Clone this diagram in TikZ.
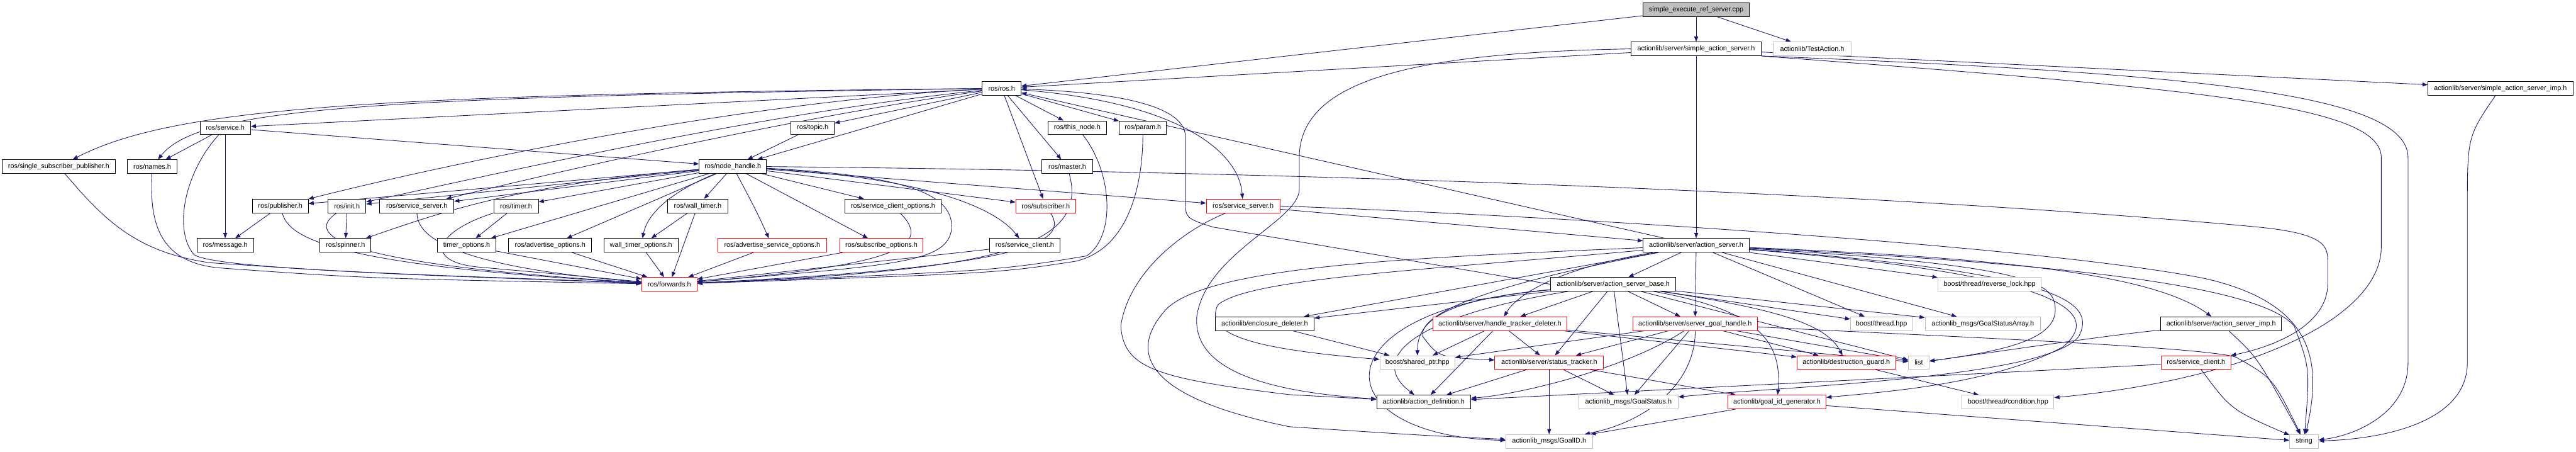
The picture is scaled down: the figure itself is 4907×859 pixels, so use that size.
\documentclass[tikz,border=0pt]{standalone}
\usepackage{fontspec}
\setmainfont{Liberation Sans}
\usetikzlibrary{arrows.meta}
\definecolor{edgec}{HTML}{191970}
\definecolor{redb}{HTML}{FF0000}
\definecolor{grayb}{HTML}{BFBFBF}
\definecolor{rootf}{HTML}{BFBFBF}
\pgfdeclarelayer{bg}
\pgfsetlayers{bg,main}
\begin{document}
\begin{tikzpicture}[x=0.02cm,y=-0.02cm,
  box/.style={draw=black, line width=0.65pt, fill=white, minimum height=0.52cm, inner xsep=0pt, inner ysep=0pt, font=\fontsize{7.4pt}{8pt}\selectfont, text=black},
  rbox/.style={box, draw=redb},
  gbox/.style={box, draw=grayb},
  root/.style={box, fill=rootf},
  e/.style={draw=edgec, line width=0.6pt, -{Triangle[length=0.2cm,width=0.15cm]}}]
\useasboundingbox (0,0) rectangle (4907,859);
% row 0
\node[root, minimum width=4.04cm] (cpp) at (3231,18.5) {simple\_execute\_ref\_server.cpp};
% row 1
\node[box, minimum width=4.96cm] (sas) at (3231,93) {actionlib/server/simple\_action\_server.h};
\node[gbox, minimum width=2.96cm] (test) at (3452,93) {actionlib/TestAction.h};
% row 2
\node[box, minimum width=1.48cm] (ros) at (1908,168) {ros/ros.h};
\node[box, minimum width=5.52cm] (sasimp) at (4763,168) {actionlib/server/simple\_action\_server\_imp.h};
% row 3
\node[box, minimum width=1.92cm] (service) at (429,243) {ros/service.h};
\node[box, minimum width=1.64cm] (topic) at (1548,243) {ros/topic.h};
\node[box, minimum width=2.22cm] (thisnode) at (2052,243) {ros/this\_node.h};
\node[box, minimum width=1.80cm] (param) at (2177,243) {ros/param.h};
% row 4
\node[box, minimum width=4.30cm] (ssp) at (112,317) {ros/single\_subscriber\_publisher.h};
\node[box, minimum width=1.90cm] (names) at (290,317) {ros/names.h};
\node[box, minimum width=2.56cm] (nh) at (1396,317) {ros/node\_handle.h};
\node[box, minimum width=1.92cm] (master) at (2033,317) {ros/master.h};
% row 5
\node[box, minimum width=2.12cm] (pub) at (534,392) {ros/publisher.h};
\node[box, minimum width=1.44cm] (init) at (661,392) {ros/init.h};
\node[box, minimum width=2.82cm] (ssb) at (794,392) {ros/service\_server.h};
\node[box, minimum width=1.70cm] (timer) at (983,392) {ros/timer.h};
\node[box, minimum width=2.30cm] (walltimer) at (1329,392) {ros/wall\_timer.h};
\node[box, minimum width=3.68cm] (sco) at (1701,392) {ros/service\_client\_options.h};
\node[rbox, minimum width=2.28cm] (sub) at (1992,392) {ros/subscriber.h};
\node[rbox, minimum width=2.80cm] (ssr) at (2368,392) {ros/service\_server.h};
% row 6
\node[box, minimum width=2.16cm] (msg) at (429,467) {ros/message.h};
\node[box, minimum width=1.94cm] (spinner) at (658,467) {ros/spinner.h};
\node[box, minimum width=2.22cm] (timeropt) at (889,467) {timer\_options.h};
\node[box, minimum width=3.16cm] (advopt) at (1048,467) {ros/advertise\_options.h};
\node[box, minimum width=2.82cm] (wtopt) at (1221,467) {wall\_timer\_options.h};
\node[rbox, minimum width=4.14cm] (asopt) at (1471,467) {ros/advertise\_service\_options.h};
\node[rbox, minimum width=3.18cm] (subopt) at (1679,467) {ros/subscribe\_options.h};
\node[box, minimum width=2.70cm] (scb) at (1952,467) {ros/service\_client.h};
\node[box, minimum width=4.04cm] (as) at (3231,467) {actionlib/server/action\_server.h};
% row 7
\node[rbox, minimum width=2.10cm] (fwd) at (1275,541) {ros/forwards.h};
\node[box, minimum width=4.76cm] (asb) at (3073,541) {actionlib/server/action\_server\_base.h};
\node[gbox, minimum width=3.94cm] (rlock) at (3790,541) {boost/thread/reverse\_lock.hpp};
% row 8
\node[box, minimum width=3.76cm] (encl) at (2409,616) {actionlib/enclosure\_deleter.h};
\node[rbox, minimum width=5.10cm] (htd) at (2857,616) {actionlib/server/handle\_tracker\_deleter.h};
\node[rbox, minimum width=4.76cm] (sgh) at (3229,616) {actionlib/server/server\_goal\_handle.h};
\node[gbox, minimum width=2.36cm] (thread) at (3584,616) {boost/thread.hpp};
\node[gbox, minimum width=4.40cm] (gsa) at (3777,616) {actionlib\_msgs/GoalStatusArray.h};
\node[box, minimum width=4.60cm] (asimp) at (4231,616) {actionlib/server/action\_server\_imp.h};
% row 9
\node[gbox, minimum width=2.86cm] (sptr) at (2700,690) {boost/shared\_ptr.hpp};
\node[rbox, minimum width=4.14cm] (st) at (2951,690) {actionlib/server/status\_tracker.h};
\node[rbox, minimum width=3.76cm] (dg) at (3517,690) {actionlib/destruction\_guard.h};
\node[gbox, minimum width=0.78cm] (list) at (3655,690) {list};
\node[rbox, minimum width=2.66cm] (scr) at (4183,690) {ros/service\_client.h};
% row 10
\node[box, minimum width=3.58cm] (ad) at (2712,765) {actionlib/action\_definition.h};
\node[gbox, minimum width=3.78cm] (gs) at (3102,765) {actionlib\_msgs/GoalStatus.h};
\node[rbox, minimum width=3.74cm] (gidg) at (3385,765) {actionlib/goal\_id\_generator.h};
\node[gbox, minimum width=3.50cm] (cond) at (3825,765) {boost/thread/condition.hpp};
% row 11
\node[gbox, minimum width=3.30cm] (gid) at (2951,840) {actionlib\_msgs/GoalID.h};
\node[gbox, minimum width=1.10cm] (str) at (4389,840) {string};

\begin{pgfonlayer}{bg}
% top
\draw[e] (cpp) -- (sas);
\draw[e] (cpp) -- (test);
\draw[e] (cpp) -- (ros);
\draw[e] (sas) -- (ros);
\draw[e] (sas) -- (as);
\draw[e] (sas) -- (sasimp);
\draw[e] (sas.south east) .. controls (4200,140) and (4587,180) .. (4587,300) -- (4587,690) .. controls (4587,790) and (4480,830) .. (str);
\draw[e] (sas.south east) .. controls (4200,170) and (4536,200) .. (4536,300) -- (4536,470) .. controls (4536,600) and (4300,720) .. (cond);
\draw[e] (sas.west) .. controls (2700,100) and (2475,150) .. (2475,300) -- (2475,360) .. controls (2475,420) and (2300,480) .. (2280,600) .. controls (2270,700) and (2400,745) .. (ad);
\draw[e] (sasimp) .. controls (4700,260) .. (4700,400) -- (4700,690) .. controls (4700,800) and (4550,835) .. (str);
% ros
\draw[e] (ros) .. controls (700,180) and (330,205) .. (ssp);
\draw[e] (ros) .. controls (700,185) and (380,205) .. (names);
\draw[e] (ros) -- (service);
\draw[e] (ros) -- (topic);
\draw[e] (ros) -- (nh);
\draw[e] (ros) -- (thisnode);
\draw[e] (ros) -- (param);
\draw[e] (ros) -- (master);
\draw[e] (ros) -- (sub);
\draw[e] (ros) .. controls (1450,190) and (900,300) .. (pub);
\draw[e] (ros) .. controls (1450,215) and (950,330) .. (init);
\draw[e] (ros) .. controls (1500,225) and (1050,330) .. (ssb);
\draw[e] (ros) .. controls (2250,195) and (2360,290) .. (ssr);
% service, names, ssp
\draw[e] (service) -- (names);
\draw[e] (service) -- (nh);
\draw[e] (service) -- (msg);
\draw[e] (service) .. controls (350,330) and (330,440) .. (370,485) .. controls (420,515) and (900,525) .. (fwd);
\draw[e] (names) .. controls (285,420) and (300,500) .. (420,510) .. controls (700,530) .. (fwd);
\draw[e] (ssp) .. controls (200,420) and (260,480) .. (400,500) .. controls (700,520) .. (fwd);
\draw[e] (pub) -- (msg);
\draw[e] (pub) .. controls (550,450) and (620,505) .. (fwd);
\draw[e] (init) .. controls (590,440) and (600,500) .. (fwd);
\draw[e] (init) -- (spinner);
\draw[e] (ssb) .. controls (795,440) and (830,505) .. (fwd);
\draw[e] (topic) -- (nh);
% node_handle
\draw[e] (nh) -- (pub);
\draw[e] (nh) -- (init);
\draw[e] (nh) -- (ssb);
\draw[e] (nh) -- (timer);
\draw[e] (nh) .. controls (1000,350) and (850,400) .. (spinner);
\draw[e] (nh) -- (timeropt);
\draw[e] (nh) -- (advopt);
\draw[e] (nh) .. controls (1290,360) and (1235,400) .. (wtopt);
\draw[e] (nh) -- (walltimer);
\draw[e] (nh) .. controls (1440,400) .. (asopt);
\draw[e] (nh) -- (subopt);
\draw[e] (nh) -- (sco);
\draw[e] (nh) -- (sub);
\draw[e] (nh) -- (ssr);
\draw[e] (nh) .. controls (1780,340) and (1900,400) .. (scb);
\draw[e] (nh) .. controls (1760,335) and (1820,380) .. (1812,440) .. controls (1800,500) and (1700,505) .. (fwd);
\draw[e] (nh.east) .. controls (2800,330) and (3800,385) .. (4300,432) .. controls (4434,445) and (4434,470) .. (4434,500) -- (4434,540) .. controls (4434,620) and (4330,660) .. (scr);
% forwards fan-in
\draw[e] (timer) -- (timeropt);
\draw[e] (timer) .. controls (830,440) and (800,500) .. (920,509) .. controls (1100,525) .. (fwd);
\draw[e] (walltimer) -- (wtopt);
\draw[e] (walltimer) -- (fwd);
\draw[e] (timeropt) -- (fwd);
\draw[e] (advopt) -- (fwd);
\draw[e] (wtopt) -- (fwd);
\draw[e] (asopt) -- (fwd);
\draw[e] (subopt) -- (fwd);
\draw[e] (sco) .. controls (1780,470) and (1700,505) .. (fwd);
\draw[e] (sub) .. controls (2045,470) and (1900,510) .. (fwd);
\draw[e] (master) .. controls (2075,470) and (1900,515) .. (fwd);
\draw[e] (thisnode) .. controls (2120,330) and (2125,450) .. (2070,487) .. controls (1900,515) .. (fwd);
\draw[e] (param) .. controls (2177,330) and (2160,470) .. (2050,497) .. controls (1900,520) .. (fwd);
\draw[e] (scb) -- (fwd);
% service_server (red)
\draw[e] (ssr) -- (as);
\draw[e] (ssr.east) .. controls (3000,412) and (3900,470) .. (4200,530) .. controls (4420,580) and (4420,700) .. (str);
\draw[e] (ssr) .. controls (2250,440) and (2150,520) .. (2135,620) .. controls (2140,700) and (2200,720) .. (2456,751) -- (ad);
% action_server
\draw[e] (as) -- (ros);
\draw[e] (asb.west) -- (2310,432) .. controls (2258,415) .. (2258,380) -- (2258,260) .. controls (2258,195) and (2100,175) .. (ros);
\draw[e] (as) -- (asb);
\draw[e] (as) -- (encl);
\draw[e] (as) .. controls (2970,510) and (2890,560) .. (htd);
\draw[e] (as) -- (sgh);
\draw[e] (as) -- (thread);
\draw[e] (as) -- (gsa);
\draw[e] (as) -- (rlock);
\draw[e] (as) .. controls (3800,490) and (4100,520) .. (asimp);
\draw[e] (as) .. controls (3900,500) and (4300,540) .. (4370,620) .. controls (4400,700) .. (str);
\draw[e] (as) .. controls (3880,505) and (3915,540) .. (3915,590) .. controls (3915,650) and (3800,670) .. (list);
\draw[e] (as) .. controls (3950,520) and (3990,580) .. (3960,640) .. controls (3900,720) and (3400,735) .. (gs);
\draw[e] (as) .. controls (3960,525) and (4000,600) .. (3930,660) .. controls (3800,730) and (3600,745) .. (gidg);
\draw[e] (as) .. controls (2700,490) and (2300,505) .. (2220,590) .. controls (2140,680) and (2200,760) .. (2456,812) .. controls (2700,828) .. (gid);
\draw[e] (as) .. controls (2700,515) and (2380,530) .. (2320,580) .. controls (2290,640) and (2400,665) .. (sptr);
\draw[e] (as) .. controls (2950,520) and (2700,580) .. (2710,640) .. controls (2740,680) .. (st);
% action_server_base
\draw[e] (asb) -- (encl);
\draw[e] (asb) -- (htd);
\draw[e] (asb) -- (sgh);
\draw[e] (asb) -- (thread);
\draw[e] (asb) -- (gsa);
\draw[e] (asb) -- (st);
\draw[e] (asb) -- (gs);
\draw[e] (asb) .. controls (2750,570) and (2700,610) .. (sptr);
\draw[e] (asb) .. controls (2700,600) and (2600,680) .. (ad);
\draw[e] (asb) .. controls (2500,590) and (2520,830) .. (gid);
\draw[e] (asb) .. controls (3400,590) and (3480,620) .. (dg);
\draw[e] (asb) -- (list);
\draw[e] (asb) .. controls (3350,590) and (3395,650) .. (gidg);
% lower
\draw[e] (encl) -- (sptr);
\draw[e] (htd) -- (sptr);
\draw[e] (htd) -- (st);
\draw[e] (htd) -- (ad);
\draw[e] (htd) -- (dg);
\draw[e] (htd) -- (list);
\draw[e] (sgh) .. controls (3100,700) and (2900,750) .. (ad);
\draw[e] (sgh) -- (st);
\draw[e] (sgh) -- (sptr);
\draw[e] (sgh) -- (gs);
\draw[e] (sgh) .. controls (3230,720) and (3150,800) .. (gid);
\draw[e] (sgh) -- (dg);
\draw[e] (sgh) -- (list);
\draw[e] (sgh) .. controls (3700,640) and (4200,660) .. (4260,680) .. controls (4330,720) .. (str);
\draw[e] (st) -- (ad);
\draw[e] (st) -- (gs);
\draw[e] (st) -- (gid);
\draw[e] (st) -- (gidg);
\draw[e] (gidg) -- (gid);
\draw[e] (gidg) -- (str);
\draw[e] (dg) -- (cond);
\draw[e] (asimp) .. controls (4000,640) and (3800,670) .. (list);
\draw[e] (asimp) .. controls (4300,680) .. (str);
\draw[e] (scr) .. controls (4250,780) .. (str);
\draw[e] (scr) -- (ad);
\end{pgfonlayer}
\end{tikzpicture}
\end{document}
